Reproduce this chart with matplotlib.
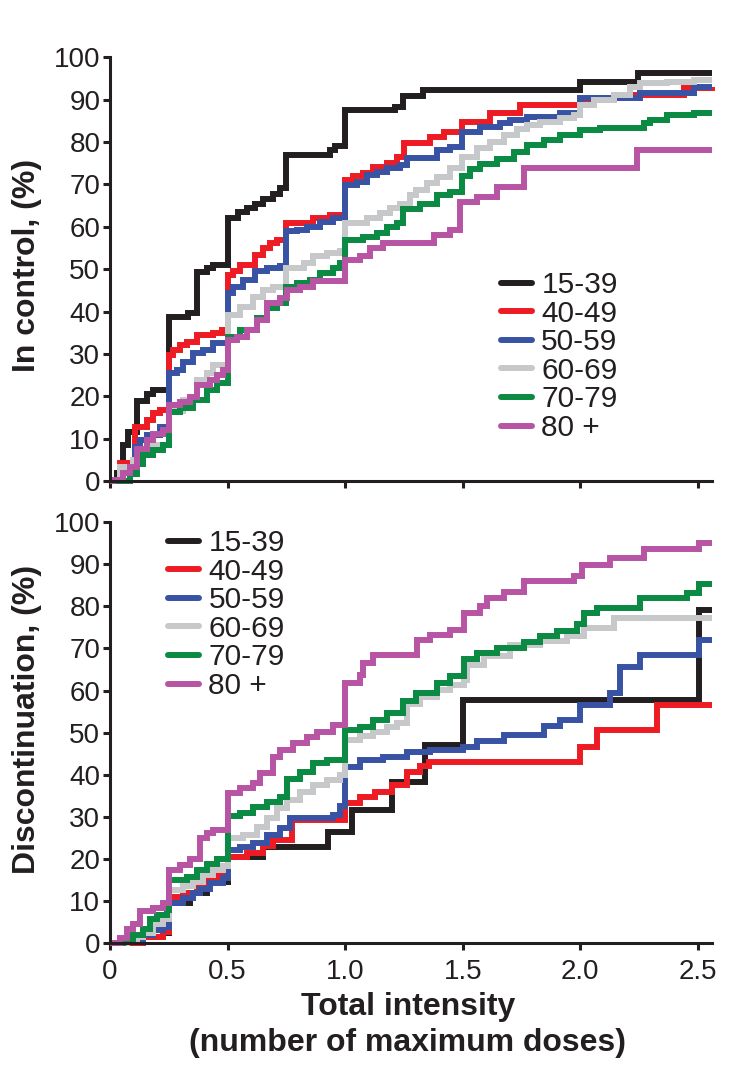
import matplotlib
matplotlib.use('Agg')
import matplotlib.pyplot as plt

plt.rcParams['font.family'] = ['Liberation Sans', 'DejaVu Sans']

groups = ['15-39', '40-49', '50-59', '60-69', '70-79', '80 +']
colors = ['#231f20', '#ed1c24', '#3953a4', '#c7c8ca', '#0a8a43', '#b854a4']

x_ticks = [0, 0.5, 1.0, 1.5, 2.0, 2.5]
x_tick_labels = ['0', '0.5', '1.0', '1.5', '2.0', '2.5']
y_ticks = [0, 10, 20, 30, 40, 50, 60, 70, 80, 90, 100]
y_tick_labels = ['0', '10', '20', '30', '40', '50', '60', '70', '80', '90', '100']

# ---------------- In control (top panel) ----------------
ctrl_1539_x = [0, 0.03, 0.057, 0.078, 0.113, 0.156, 0.184, 0.25, 0.333, 0.369, 0.411, 0.44, 0.5, 0.546,
               0.582, 0.617, 0.652, 0.695, 0.723, 0.75, 0.936, 0.957, 1.0, 1.213, 1.247, 1.332, 2.0, 2.247, 2.56]
ctrl_1539_y = [0, 2, 8.5, 11.5, 19, 20.5, 21.5, 38.8, 39.6, 49.4, 50.2, 51, 62, 63.6,
               64.5, 65.5, 66.5, 67.8, 69.2, 77, 78.1, 79.2, 87.6, 88.4, 90.9, 92.3, 94.3, 96.2, 96.2]

ctrl_4049_x = [0, 0.043, 0.106, 0.156, 0.184, 0.213, 0.25, 0.27, 0.298, 0.326, 0.369, 0.44, 0.475, 0.5,
               0.525, 0.553, 0.617, 0.652, 0.681, 0.709, 0.75, 0.865, 0.936, 1.0, 1.035, 1.078, 1.12,
               1.177, 1.22, 1.25, 1.362, 1.419, 1.497, 1.617, 1.745, 2.0, 2.142, 2.44, 2.56]
ctrl_4049_y = [0, 4.2, 12.8, 14.4, 16, 16.8, 29.7, 31, 32, 32.9, 34.5, 35, 35.7, 48.6,
               49.5, 51.1, 53.4, 55, 56.1, 56.9, 60.8, 62, 62.8, 71.1, 71.9, 72.6, 74.2,
               75, 76.5, 79.7, 81.3, 82.5, 84.8, 86.8, 88.8, 90, 91.1, 92.7, 93]

ctrl_5059_x = [0, 0.05, 0.106, 0.128, 0.156, 0.213, 0.25, 0.284, 0.312, 0.355, 0.397, 0.44, 0.5, 0.525,
               0.567, 0.617, 0.667, 0.723, 0.75, 0.794, 0.837, 0.894, 0.95, 1.0, 1.05, 1.092, 1.135,
               1.177, 1.234, 1.262, 1.39, 1.447, 1.497, 1.574, 1.66, 1.702, 1.773, 1.915, 2.0, 2.255,
               2.482, 2.56]
ctrl_5059_y = [0, 3, 8.1, 9.7, 10.9, 12.8, 25.4, 26.2, 28.1, 30.1, 31, 32.5, 44.3, 45.9,
               47.5, 49.5, 50.3, 50.7, 58.9, 59.3, 60, 61.2, 62, 69.9, 70.6, 72.2, 73,
               73.8, 74.6, 76.2, 78.1, 78.9, 82.5, 83.6, 84.4, 85.2, 86, 86.8, 90.5, 91.5,
               93, 93]

ctrl_6069_x = [0, 0.043, 0.099, 0.142, 0.184, 0.25, 0.312, 0.369, 0.411, 0.44, 0.5, 0.553, 0.61, 0.652,
               0.695, 0.75, 0.823, 0.865, 0.922, 0.979, 1.0, 1.092, 1.149, 1.191, 1.234, 1.277, 1.30,
               1.348, 1.39, 1.447, 1.497, 1.56, 1.617, 1.674, 1.731, 1.773, 1.83, 1.915, 1.972, 2.0,
               2.057, 2.142, 2.213, 2.255, 2.369, 2.482, 2.56]
ctrl_6069_y = [0, 3.3, 4.9, 6.9, 8.5, 16.5, 19.1, 23.8, 25.4, 27.3, 39.2, 41.1, 43.4, 45,
               45.8, 50.2, 51.5, 53, 53.8, 54.2, 60.8, 62, 63.2, 64.4, 65.5, 67.5, 68.6,
               70.3, 71.8, 73.8, 76.5, 78.5, 80.1, 81.7, 83.2, 84, 84.8, 85.6, 86.4, 88.7,
               90, 91.1, 93.1, 93.9, 94.3, 94.7, 94.7]

ctrl_7079_x = [0, 0.085, 0.113, 0.142, 0.184, 0.227, 0.25, 0.298, 0.355, 0.411, 0.454, 0.5, 0.553, 0.624,
               0.667, 0.709, 0.75, 0.794, 0.851, 0.894, 0.95, 0.979, 1.0, 1.078, 1.135, 1.177, 1.22,
               1.248, 1.319, 1.39, 1.447, 1.497, 1.532, 1.574, 1.645, 1.716, 1.773, 1.844, 1.915, 2.0,
               2.085, 2.27, 2.298, 2.369, 2.482, 2.56]
ctrl_7079_y = [0, 1.6, 4.1, 6.1, 7.3, 8.5, 16.4, 17.2, 19.1, 21.5, 23.1, 34.1, 35.6, 38.5,
               40.8, 42, 45.9, 46.7, 47.5, 49, 50.2, 51.5, 56.9, 57.7, 58.5, 60, 60.8,
               64.2, 65.5, 67.5, 68.3, 72.1, 73.7, 74.9, 76.1, 77.7, 79.3, 80.5, 81.7, 82.9,
               83.3, 84.5, 85.3, 86.5, 86.8, 86.8]

ctrl_80_x = [0, 0.014, 0.057, 0.085, 0.113, 0.156, 0.184, 0.227, 0.25, 0.298, 0.34, 0.369, 0.426, 0.454,
             0.482, 0.5, 0.539, 0.582, 0.624, 0.667, 0.723, 0.752, 0.809, 0.865, 1.0, 1.064, 1.106,
             1.163, 1.376, 1.447, 1.489, 1.56, 1.645, 1.759, 2.241, 2.56]
ctrl_80_y = [0, 0.3, 1.8, 3.3, 7.6, 9.6, 11.2, 12, 17.9, 18.7, 19.9, 22.7, 23.8, 25,
             26.2, 33.3, 34.1, 35.6, 38, 42, 43.1, 45.1, 45.9, 47.1, 52.2, 53, 54.9,
             56.1, 58.1, 59.3, 65.9, 67.1, 69.5, 73.8, 78.1, 78.1]

# ---------------- Discontinuation (bottom panel) ----------------
disc_1539_x = [0, 0.099, 0.142, 0.227, 0.25, 0.34, 0.411, 0.5, 0.652, 0.929, 1.03, 1.2, 1.34, 1.502,
               2.504, 2.56]
disc_1539_y = [0, 0.8, 1.6, 2.4, 9.5, 12, 14.5, 20.6, 22.8, 26.5, 31.6, 38.4, 47.1, 57.8,
               79.1, 79.1]

disc_4049_x = [0, 0.142, 0.227, 0.25, 0.312, 0.369, 0.411, 0.454, 0.5, 0.582, 0.652, 0.695, 0.773, 1.0,
               1.064, 1.128, 1.2, 1.262, 1.319, 1.355, 2.0, 2.071, 2.326, 2.56]
disc_4049_y = [0, 1.6, 2.8, 11.1, 11.9, 14.2, 15, 16.2, 20.6, 21.4, 23, 24.5, 29.3, 33.2,
               34.8, 36, 37.5, 40.7, 42, 43.1, 46.7, 50.6, 56.6, 56.6]

disc_5059_x = [0, 0.071, 0.113, 0.142, 0.184, 0.227, 0.25, 0.312, 0.355, 0.383, 0.426, 0.482, 0.5, 0.553,
               0.61, 0.667, 0.723, 0.766, 0.95, 0.979, 1.0, 1.064, 1.163, 1.262, 1.362, 1.502, 1.56,
               1.674, 1.844, 1.915, 2.0, 2.128, 2.17, 2.255, 2.504, 2.56]
disc_5059_y = [0, 0.3, 1, 1.9, 3.1, 3.9, 9.5, 10.7, 11.9, 13, 14.2, 15.4, 22.1, 22.9,
               23.7, 25.7, 27.3, 29.7, 30.5, 32.5, 41.9, 43.5, 44.3, 45.5, 45.9, 46.7, 47.9,
               49.5, 51.5, 53.1, 56.6, 59.4, 65.7, 68.5, 72.1, 72.1]

disc_6069_x = [0, 0.071, 0.113, 0.142, 0.184, 0.227, 0.25, 0.312, 0.355, 0.397, 0.44, 0.482, 0.5, 0.567,
               0.624, 0.667, 0.709, 0.752, 0.809, 0.865, 0.922, 0.979, 1.0, 1.064, 1.12, 1.177, 1.22,
               1.262, 1.32, 1.39, 1.447, 1.504, 1.518, 1.589, 1.702, 1.83, 1.943, 2.014, 2.142, 2.56]
disc_6069_y = [0, 0.8, 1.6, 2.4, 4.5, 5.7, 12.7, 13.5, 14.6, 16.2, 17.4, 18.3, 24.9, 25.7,
               27.7, 29.7, 32, 33.9, 35.9, 37.5, 38.7, 39.9, 48.3, 49.1, 50.2, 51.4, 52.2,
               56.9, 58.5, 60.1, 61.3, 62.5, 66.1, 68.1, 70.9, 71.7, 72.9, 74.9, 77.3, 77.3]

disc_7079_x = [0, 0.057, 0.099, 0.142, 0.17, 0.199, 0.241, 0.25, 0.326, 0.369, 0.411, 0.454, 0.5, 0.553,
               0.61, 0.667, 0.723, 0.752, 0.809, 0.865, 0.922, 1.0, 1.064, 1.12, 1.177, 1.248, 1.3,
               1.39, 1.447, 1.504, 1.56, 1.645, 1.759, 1.83, 1.901, 1.986, 2.014, 2.071, 2.255, 2.454,
               2.504, 2.56]
disc_7079_y = [0, 0.3, 1.9, 3.5, 5.8, 6.6, 8, 15, 15.8, 17.4, 18.9, 20.1, 30.1, 30.9,
               32.3, 33.5, 34.7, 39.1, 40.7, 42.7, 43.4, 50.6, 51.4, 53.1, 54.7, 57.5, 59.4,
               61.8, 63.4, 67.4, 69, 70.2, 71.4, 73, 74.1, 75.7, 78.5, 79.7, 82, 83.2,
               85.2, 85.2]

disc_80_x = [0, 0.043, 0.071, 0.099, 0.128, 0.184, 0.227, 0.25, 0.298, 0.34, 0.383, 0.411, 0.44, 0.5,
             0.553, 0.61, 0.638, 0.695, 0.723, 0.78, 0.837, 0.879, 0.95, 1.0, 1.064, 1.078, 1.12,
             1.305, 1.362, 1.447, 1.504, 1.574, 1.603, 1.674, 1.759, 1.972, 2.007, 2.128, 2.27, 2.504,
             2.56]
disc_80_y = [0, 1.2, 3.3, 4.5, 7.6, 8.4, 9.5, 17.4, 18.6, 20.1, 24.9, 26.1, 26.9, 35.6,
             36.8, 38, 40.4, 44.3, 45.9, 47.5, 49, 50.2, 51.8, 61.7, 63.7, 66.5, 68.5,
             72, 73.2, 74.4, 78.4, 80, 82, 83.5, 86, 87.1, 89.9, 91.5, 93.5, 95.1,
             95.1]

ctrl_series = [(ctrl_1539_x, ctrl_1539_y), (ctrl_4049_x, ctrl_4049_y), (ctrl_5059_x, ctrl_5059_y),
               (ctrl_6069_x, ctrl_6069_y), (ctrl_7079_x, ctrl_7079_y), (ctrl_80_x, ctrl_80_y)]
disc_series = [(disc_1539_x, disc_1539_y), (disc_4049_x, disc_4049_y), (disc_5059_x, disc_5059_y),
               (disc_6069_x, disc_6069_y), (disc_7079_x, disc_7079_y), (disc_80_x, disc_80_y)]

W, H = 750, 1074
fig = plt.figure(figsize=(W / 100, H / 100), dpi=100)

def px_rect(left, right, top, bottom):
    return [left / W, 1 - bottom / H, (right - left) / W, (bottom - top) / H]

ax_top = fig.add_axes(px_rect(110, 712, 57.4, 481))
ax_bot = fig.add_axes(px_rect(110, 712, 522, 943.3))

ink = '#231f20'
LW = 4.3

def style(ax, show_xlabels):
    ax.set_xlim(0, 2.56)
    ax.set_ylim(0, 100)
    for s in ['top', 'right']:
        ax.spines[s].set_visible(False)
    for s in ['left', 'bottom']:
        ax.spines[s].set_linewidth(2.2)
        ax.spines[s].set_color(ink)
    ax.set_xticks(x_ticks)
    ax.set_yticks(y_ticks)
    ax.set_yticklabels(y_tick_labels)
    if show_xlabels:
        ax.set_xticklabels(x_tick_labels)
    else:
        ax.set_xticklabels([])
    ax.tick_params(axis='both', direction='out', length=5, width=2.2, color=ink,
                   labelsize=20, labelcolor=ink)
    ax.tick_params(axis='y', pad=2)
    ax.tick_params(axis='x', pad=6)

def draw(ax, series):
    for (xs, ys), c, g in zip(series, colors, groups):
        ax.plot(xs, ys, drawstyle='steps-post', color=c, lw=LW, label=g,
                solid_joinstyle='miter', solid_capstyle='butt', clip_on=False)

draw(ax_top, ctrl_series)
draw(ax_bot, disc_series)
style(ax_top, False)
style(ax_bot, True)

leg_kw = dict(frameon=False, fontsize=21.5, handlelength=1.05, handletextpad=0.3,
              labelspacing=0.02, borderpad=0, borderaxespad=0, loc='upper left')
for ax, (lx, ly) in [(ax_top, (501, 271)), (ax_bot, (168, 529))]:
    leg = ax.legend(bbox_to_anchor=(lx / W, 1 - ly / H), bbox_transform=fig.transFigure, **leg_kw)
    for t in leg.get_texts():
        t.set_color(ink)
    for h in leg.legend_handles:
        h.set_solid_capstyle('round')
        h.set_linewidth(LW)

ax_top.set_ylabel('In control, (%)', fontsize=23, fontweight='bold', color=ink)
ax_top.yaxis.set_label_coords(-0.113, 0.51)
ax_bot.set_ylabel('Discontinuation, (%)', fontsize=23, fontweight='bold', color=ink)
ax_bot.yaxis.set_label_coords(-0.113, 0.532)
ax_bot.set_xlabel('Total intensity\n(number of maximum doses)', fontsize=23, fontweight='bold',
                  color=ink, linespacing=1.28)
ax_bot.xaxis.set_label_coords(0.495, -0.115)

fig.savefig('out.png', dpi=100)
